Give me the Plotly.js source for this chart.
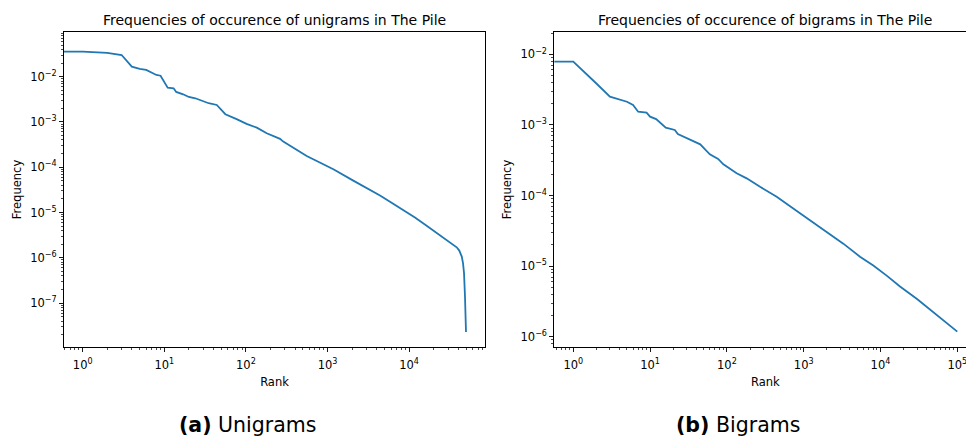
<!DOCTYPE html>
<html>
<head>
<meta charset="utf-8">
<script src="https://cdn.plot.ly/plotly-3.0.1.min.js"></script>
<style>
html,body{margin:0;padding:0;background:#fff;overflow:hidden;width:966px;height:437px;}
#plot{width:978px;height:437px;}
</style>
</head>
<body>
<div id="plot"></div>
<script>
// Unigram rank / frequency
const uniRank = [0.5, 1, 2, 3, 4, 5, 6, 8, 9, 11, 13, 14, 17, 20, 24, 35, 44, 49, 56, 77, 102, 136, 180, 262, 287, 556, 1180, 2070, 3020, 4400, 6170, 8490, 11800, 16400, 22000, 28900, 33550, 38300, 41200, 44200, 45800, 47100, 48400, 49800];
const uniFreq = [0.0356, 0.0356, 0.0335, 0.0301, 0.0166, 0.0148, 0.0141, 0.0109, 0.0105, 0.00571, 0.00555, 0.00459, 0.00408, 0.00356, 0.00333, 0.00259, 0.00237, 0.00191, 0.00148, 0.00115, 0.000904, 0.000748, 0.000563, 0.000422, 0.000368, 0.000177, 9.03e-5, 5.06e-5, 3.48e-5, 2.38e-5, 1.62e-5, 1.14e-5, 7.71e-6, 5.12e-6, 3.49e-6, 2.48e-6, 1.95e-6, 1.70e-6, 1.44e-6, 1.06e-6, 7.52e-7, 4.57e-7, 1.39e-7, 2.28e-8];

// Bigram rank / frequency
const biRank = [0.5, 1, 2, 3, 5, 6, 7, 9, 10, 12, 16, 21, 23, 33, 45, 52, 60, 77, 90, 134, 181, 270, 445, 895, 1630, 3280, 5410, 8060, 12150, 17950, 29900, 48700, 69200, 100000];
const biFreq = [0.00786, 0.00786, 0.00386, 0.00251, 0.00213, 0.00191, 0.00154, 0.00149, 0.00131, 0.00121, 0.000912, 0.000847, 0.000743, 0.000625, 0.000531, 0.000451, 0.000383, 0.000329, 0.000277, 0.000206, 0.000175, 0.000133, 9.62e-5, 5.6e-5, 3.56e-5, 2.08e-5, 1.36e-5, 1.02e-5, 7.26e-6, 5.15e-6, 3.42e-6, 2.25e-6, 1.65e-6, 1.18e-6];

// Tick labels
const xTickVals1 = [1, 10, 100, 1000, 10000];
const xTickText1 = ['10<sup>0</sup>', '10<sup>1</sup>', '10<sup>2</sup>', '10<sup>3</sup>', '10<sup>4</sup>'];
const xTickVals2 = [1, 10, 100, 1000, 10000, 100000];
const xTickText2 = ['10<sup>0</sup>', '10<sup>1</sup>', '10<sup>2</sup>', '10<sup>3</sup>', '10<sup>4</sup>', '10<sup>5</sup>'];
const yTickVals1 = [1e-7, 1e-6, 1e-5, 1e-4, 1e-3, 1e-2];
const yTickText1 = ['10<sup>\u22127</sup>', '10<sup>\u22126</sup>', '10<sup>\u22125</sup>', '10<sup>\u22124</sup>', '10<sup>\u22123</sup>', '10<sup>\u22122</sup>'];
const yTickVals2 = [1e-6, 1e-5, 1e-4, 1e-3, 1e-2];
const yTickText2 = ['10<sup>\u22126</sup>', '10<sup>\u22125</sup>', '10<sup>\u22124</sup>', '10<sup>\u22123</sup>', '10<sup>\u22122</sup>'];

const titles = ['Frequencies of occurence of unigrams in The Pile', 'Frequencies of occurence of bigrams in The Pile'];
const captions = ['<b>(a)</b> Unigrams', '<b>(b)</b> Bigrams'];

function minorVals(d0, d1) {
  const v = [];
  for (let d = d0; d <= d1; d++) for (let m = 2; m <= 9; m++) v.push(m * Math.pow(10, d));
  return v;
}

const W = 978, H = 437;
const FONT = 'DejaVu Sans, sans-serif';
const lineColor = '#1f77b4';

const yDom = [1 - 346.7 / H, 1 - 32.3 / H];
const x1Dom = [64 / W, 485 / W];
const x2Dom = [554.3 / W, 976.5 / W];

function xAxis(dom, range, tv, tt, anchor) {
  return {
    domain: dom, type: 'log', range: range, anchor: anchor,
    tickmode: 'array', tickvals: tv, ticktext: tt,
    ticks: 'outside', ticklen: 4, tickwidth: 0.9, tickcolor: '#000',
    ticklabelstandoff: 3,
    showline: true, mirror: true, linecolor: '#000', linewidth: 1,
    showgrid: false, zeroline: false,
    tickfont: {family: FONT, size: 11.5, color: '#000'},
    minor: {ticks: 'outside', ticklen: 2, tickwidth: 0.7, tickcolor: '#000', tickmode: 'array', tickvals: minorVals(-1, 5), showgrid: false},
    title: {text: 'Rank', font: {family: FONT, size: 11.5, color: '#000'}, standoff: 7}
  };
}
function yAxis(range, tv, tt, anchor) {
  return {
    domain: yDom, type: 'log', range: range, anchor: anchor,
    tickmode: 'array', tickvals: tv, ticktext: tt,
    ticks: 'outside', ticklen: 4, tickwidth: 0.9, tickcolor: '#000',
    showline: true, mirror: true, linecolor: '#000', linewidth: 1,
    showgrid: false, zeroline: false,
    tickfont: {family: FONT, size: 11.5, color: '#000'},
    minor: {ticks: 'outside', ticklen: 2, tickwidth: 0.7, tickcolor: '#000', tickmode: 'array', tickvals: minorVals(-9, -1), showgrid: false},
    title: {text: 'Frequency', font: {family: FONT, size: 11.5, color: '#000'}, standoff: 6}
  };
}

const data = [
  {x: uniRank, y: uniFreq, type: 'scatter', mode: 'lines', line: {color: lineColor, width: 1.8}, xaxis: 'x', yaxis: 'y', hoverinfo: 'skip'},
  {x: biRank, y: biFreq, type: 'scatter', mode: 'lines', line: {color: lineColor, width: 1.8}, xaxis: 'x2', yaxis: 'y2', hoverinfo: 'skip'}
];

const layout = {
  width: W, height: H,
  margin: {l: 0, r: 0, t: 0, b: 0},
  paper_bgcolor: '#fff', plot_bgcolor: '#fff',
  showlegend: false,
  font: {family: FONT, color: '#000'},
  xaxis: xAxis(x1Dom, [-0.229, 4.93], xTickVals1, xTickText1, 'y'),
  yaxis: yAxis([-7.965, -1.02], yTickVals1, yTickText1, 'x'),
  xaxis2: xAxis(x2Dom, [-0.247, 5.25], xTickVals2, xTickText2, 'y2'),
  yaxis2: yAxis([-6.142, -1.688], yTickVals2, yTickText2, 'x2'),
  annotations: [
    {text: titles[0], xref: 'paper', yref: 'paper', x: (x1Dom[0] + x1Dom[1]) / 2, y: 1 - 20 / H, xanchor: 'center', yanchor: 'middle', showarrow: false, font: {family: FONT, size: 14, color: '#000'}},
    {text: titles[1], xref: 'paper', yref: 'paper', x: (x2Dom[0] + x2Dom[1]) / 2, y: 1 - 20 / H, xanchor: 'center', yanchor: 'middle', showarrow: false, font: {family: FONT, size: 14, color: '#000'}},
    {text: captions[0], xref: 'paper', yref: 'paper', x: 247.5 / W, y: 1 - 425 / H, xanchor: 'center', yanchor: 'middle', showarrow: false, font: {family: FONT, size: 20.5, color: '#000'}},
    {text: captions[1], xref: 'paper', yref: 'paper', x: 737.5 / W, y: 1 - 425 / H, xanchor: 'center', yanchor: 'middle', showarrow: false, font: {family: FONT, size: 20.5, color: '#000'}}
  ]
};

Plotly.newPlot('plot', data, layout, {staticPlot: true, displayModeBar: false});
</script>
</body>
</html>
